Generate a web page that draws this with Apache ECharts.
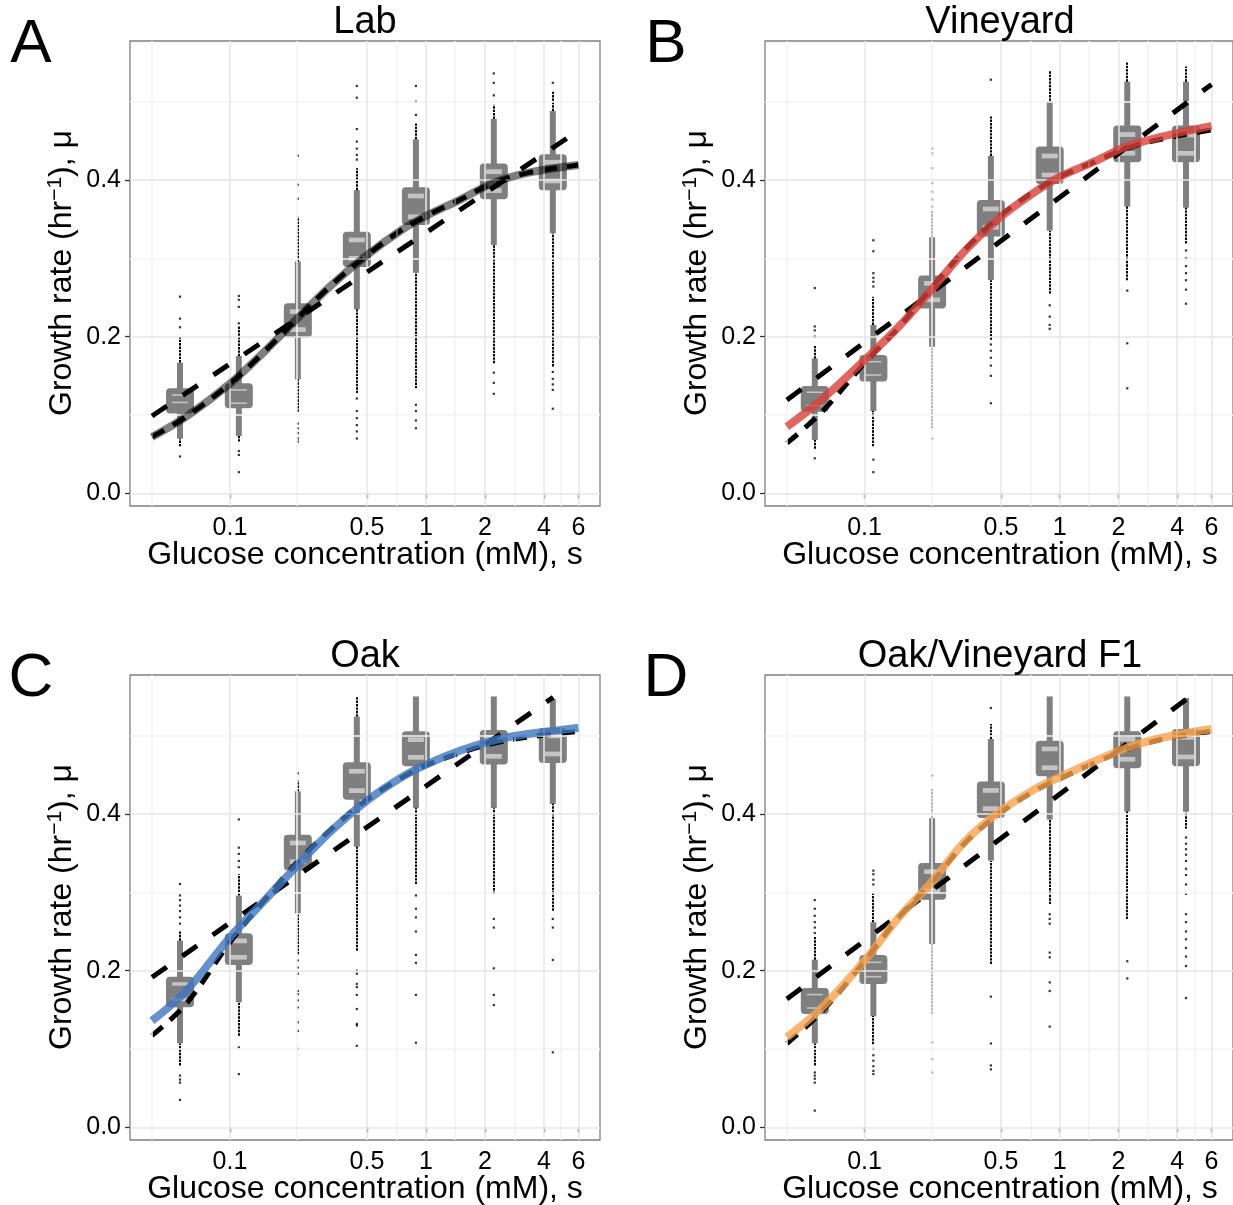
<!DOCTYPE html>
<html><head><meta charset="utf-8">
<script src="https://cdn.jsdelivr.net/npm/echarts@6/dist/echarts.min.js"></script>
<style>html,body{margin:0;padding:0;background:#fff}#c{width:1233px;height:1205px}</style>
</head><body><div id="c"></div>
<script>
// ---------- shared ----------
const conc = [0.0556, 0.111, 0.222, 0.444, 0.889, 2.22, 4.44];
const xBreaks = [0.1, 0.5, 1, 2, 4, 6];
const xMinor = [0.0447, 0.2236, 0.7071, 1.414, 2.828, 4.899];
const yBreaks = [0, 0.2, 0.4];
const yMinor = [0.1, 0.3, 0.5];
const fitS = [0.04, 0.06, 0.1, 0.15, 0.22, 0.33, 0.5, 0.75, 1, 1.5, 2.2, 3.3, 6];
const panelTitles = ['Lab', 'Vineyard', 'Oak', 'Oak/Vineyard F1'];
const panelLetters = ['A', 'B', 'C', 'D'];

// ---------- A: Lab ----------
const labBarLo = [0.070, 0.0732, 0.1455, 0.235, 0.2817, 0.317, 0.332];
const labBoxLo = [0.102, 0.1085, 0.199, 0.289, 0.3426, 0.3753, 0.387];
const labBoxHi = [0.134, 0.1404, 0.2426, 0.334, 0.3906, 0.421, 0.4328];
const labBarHi = [0.1668, 0.1753, 0.296, 0.387, 0.452, 0.478, 0.488];
const labMarkHi = [0.1255, 0.132, 0.232, 0.3234, 0.3796, 0.4106, 0.4226];
const labMarkLo = [0.116, 0.115, 0.209, 0.300, 0.353, 0.3864, 0.3987];
const labMarkHalf = [0.001, 0.001, 0.003, 0.003, 0.003, 0.003, 0.003];
const labRuns = [[0,0.167,0.200],[0,0.060,0.070],[1,0.175,0.213],[1,0.066,0.073],[2,0.296,0.353],[2,0.104,0.1455],
  [3,0.387,0.415],[3,0.128,0.235],[4,0.452,0.472],[4,0.134,0.282],[5,0.478,0.496],[5,0.166,0.317],[6,0.488,0.514],[6,0.162,0.332]];
const labPts = [[0,0.251],[0,0.223],[0,0.212],[0,0.047],[1,0.252],[1,0.247],[1,0.238],[1,0.217],[1,0.054],[1,0.049],[1,0.027],
  [2,0.431],[2,0.394],[2,0.376],[2,0.089],[2,0.083],[2,0.077],[2,0.070],[2,0.066],
  [3,0.520],[3,0.505],[3,0.465],[3,0.449],[3,0.440],[3,0.432],[3,0.426],[3,0.121],[3,0.105],[3,0.096],[3,0.087],[3,0.079],[3,0.070],
  [4,0.520],[4,0.500],[4,0.483],[4,0.113],[4,0.105],[4,0.093],[4,0.083],
  [5,0.536],[5,0.524],[5,0.508],[5,0.154],[5,0.141],[5,0.127],
  [6,0.524],[6,0.155],[6,0.146],[6,0.139],[6,0.132],[6,0.108]];
const labFit = [0.072, 0.098, 0.140, 0.181, 0.223, 0.266, 0.304, 0.336, 0.354, 0.375, 0.396, 0.409, 0.419];
const labModel = [0.072, 0.098, 0.140, 0.181, 0.223, 0.266, 0.304, 0.336, 0.354, 0.375, 0.396, 0.409, 0.419];
const labLineS = [0.04, 6];
const labLine = [0.0987, 0.463];

// ---------- B: Vineyard ----------
const vinBarLo = [0.068, 0.105, 0.187, 0.2723, 0.3353, 0.366, 0.3647];
const vinBoxLo = [0.104, 0.1426, 0.236, 0.3277, 0.395, 0.4226, 0.4226];
const vinBoxHi = [0.137, 0.1766, 0.2779, 0.3745, 0.4426, 0.4694, 0.4694];
const vinBarHi = [0.1723, 0.2149, 0.3268, 0.4306, 0.5009, 0.5255, 0.5255];
const vinMarkHi = [0.129, 0.168, 0.268, 0.363, 0.4306, 0.458, 0.4574];
const vinMarkLo = [0.112, 0.151, 0.247, 0.3396, 0.4064, 0.434, 0.434];
const vinMarkHalf = [0.001, 0.001, 0.003, 0.003, 0.003, 0.003, 0.003];
const vinRuns = [[0,0.172,0.189],[0,0.057,0.068],[1,0.215,0.251],[1,0.060,0.105],[2,0.327,0.362],[2,0.083,0.187],
  [3,0.4306,0.481],[3,0.196,0.272],[4,0.501,0.540],[4,0.255,0.335],[5,0.5255,0.55],[5,0.272,0.366],[6,0.5255,0.545],[6,0.319,0.365]];
const vinPts = [[0,0.262],[0,0.213],[0,0.208],[0,0.200],[0,0.0447],
  [1,0.323],[1,0.309],[1,0.281],[1,0.275],[1,0.270],[1,0.264],[1,0.043],[1,0.027],
  [2,0.440],[2,0.434],[2,0.415],[2,0.396],[2,0.385],[2,0.375],[2,0.366],[2,0.070],
  [3,0.528],[3,0.190],[3,0.182],[3,0.173],[3,0.163],[3,0.150],[3,0.115],
  [4,0.240],[4,0.2255],[4,0.215],[4,0.210],
  [5,0.2587],[5,0.1915],[5,0.134],
  [6,0.310],[6,0.300],[6,0.290],[6,0.281],[6,0.272],[6,0.260],[6,0.242]];
const vinFit = [0.0851, 0.119, 0.170, 0.2128, 0.2596, 0.3106, 0.353, 0.385, 0.404, 0.4234, 0.4426, 0.455, 0.469];
const vinModel = [0.064, 0.103, 0.166, 0.212, 0.262, 0.312, 0.355, 0.386, 0.404, 0.423, 0.440, 0.452, 0.4638];
const vinLineS = [0.04, 6];
const vinLine = [0.119, 0.522];

// ---------- C: Oak ----------
const oakBarLo = [0.1072, 0.1596, 0.2732, 0.3583, 0.4077, 0.4077, 0.4128];
const oakBoxLo = [0.1532, 0.2072, 0.3277, 0.418, 0.4609, 0.463, 0.4651];
const oakBoxHi = [0.1923, 0.2477, 0.3736, 0.466, 0.5055, 0.5072, 0.5098];
const oakBarHi = [0.2383, 0.2957, 0.4289, 0.5243, 0.55, 0.55, 0.5468];
const oakMarkHi = [0.183, 0.238, 0.363, 0.4545, 0.4949, 0.4979, 0.4996];
const oakMarkLo = [0.163, 0.217, 0.339, 0.4298, 0.4723, 0.4736, 0.4766];
const oakMarkHalf = [0.0022, 0.003, 0.003, 0.003, 0.003, 0.003, 0.003];
const oakRuns = [[0,0.2383,0.251],[0,0.079,0.107],[1,0.296,0.323],[1,0.117,0.16],[2,0.4289,0.4426],[2,0.221,0.273],
  [3,0.5243,0.549],[3,0.2255,0.358],[4,0.3106,0.408],[5,0.298,0.408],[6,0.2766,0.413]];
const oakPts = [[0,0.3106],[0,0.296],[0,0.290],[0,0.283],[0,0.276],[0,0.268],[0,0.260],[0,0.066],[0,0.061],[0,0.057],[0,0.035],
  [1,0.393],[1,0.357],[1,0.349],[1,0.340],[1,0.332],[1,0.102],[1,0.068],
  [2,0.4519],[2,0.213],[2,0.204],[2,0.196],[2,0.174],[2,0.170],[2,0.162],[2,0.153],[2,0.134],[2,0.123],[2,0.100],
  [3,0.200],[3,0.196],[3,0.183],[3,0.179],[3,0.169],[3,0.151],[3,0.132],[3,0.130],[3,0.104],
  [4,0.296],[4,0.279],[4,0.268],[4,0.250],[4,0.220],[4,0.210],[4,0.169],[4,0.108],
  [5,0.266],[5,0.255],[5,0.203],[5,0.169],[5,0.156],
  [6,0.266],[6,0.255],[6,0.2136],[6,0.0957]];
const oakFit = [0.136, 0.1745, 0.2426, 0.2894, 0.334, 0.3787, 0.417, 0.4468, 0.463, 0.481, 0.4936, 0.502, 0.5098];
const oakModel = [0.117, 0.158, 0.236, 0.290, 0.338, 0.381, 0.418, 0.446, 0.462, 0.478, 0.490, 0.498, 0.5055];
const oakLineS = [0.04, 4.46];
const oakLine = [0.1915, 0.549];

// ---------- D: Oak/Vineyard F1 ----------
const f1BarLo = [0.1072, 0.1417, 0.234, 0.3404, 0.3928, 0.403, 0.403];
const f1BoxLo = [0.1447, 0.183, 0.2906, 0.3949, 0.448, 0.4583, 0.4609];
const f1BoxHi = [0.1779, 0.22, 0.3374, 0.4413, 0.4936, 0.5055, 0.5085];
const f1BarHi = [0.214, 0.2617, 0.3945, 0.4957, 0.55, 0.55, 0.548];
const f1MarkHi = [0.1694, 0.2106, 0.3264, 0.430, 0.483, 0.4953, 0.4979];
const f1MarkLo = [0.1523, 0.1923, 0.302, 0.4068, 0.459, 0.4698, 0.4728];
const f1MarkHalf = [0.001, 0.001, 0.003, 0.003, 0.003, 0.003, 0.003];
const f1Runs = [[0,0.214,0.243],[0,0.079,0.107],[1,0.2617,0.300],[1,0.106,0.142],[2,0.3945,0.432],[2,0.1447,0.234],
  [3,0.4957,0.515],[3,0.2085,0.340],[4,0.285,0.3928],[5,0.266,0.403],[6,0.381,0.403]];
const f1Pts = [[0,0.290],[0,0.279],[0,0.270],[0,0.262],[0,0.255],[0,0.248],[0,0.070],[0,0.066],[0,0.062],[0,0.057],[0,0.0213],
  [1,0.3277],[1,0.323],[1,0.316],[1,0.310],[1,0.100],[1,0.092],[1,0.085],[1,0.078],[1,0.072],[1,0.068],
  [2,0.449],[2,0.1085],[2,0.087],[2,0.070],
  [3,0.5353],[3,0.1668],[3,0.107],[3,0.079],[3,0.074],
  [4,0.272],[4,0.266],[4,0.260],[4,0.223],[4,0.217],[4,0.185],[4,0.174],[4,0.1285],
  [5,0.212],[5,0.190],
  [6,0.370],[6,0.362],[6,0.355],[6,0.348],[6,0.340],[6,0.330],[6,0.322],[6,0.310],[6,0.298],[6,0.272],[6,0.262],[6,0.250],[6,0.240],[6,0.229],[6,0.218],[6,0.206],[6,0.165]];
const f1Fit = [0.115, 0.152, 0.2128, 0.268, 0.3128, 0.366, 0.404, 0.432, 0.447, 0.467, 0.4843, 0.497, 0.5085];
const f1Model = [0.107, 0.147, 0.212, 0.268, 0.312, 0.364, 0.402, 0.430, 0.445, 0.465, 0.482, 0.495, 0.5055];
const f1LineS = [0.04, 4.54];
const f1Line = [0.1638, 0.548];

// ---------- build ----------
const FONT = '"Liberation Sans", Arial, Helvetica, sans-serif';
const panels = [
  {barLo:labBarLo, boxLo:labBoxLo, boxHi:labBoxHi, barHi:labBarHi, mHi:labMarkHi, mLo:labMarkLo, mHalf:labMarkHalf, runs:labRuns, pts:labPts, fit:labFit, model:labModel, lineS:labLineS, line:labLine, color:'#000000', opacity:0.5},
  {barLo:vinBarLo, boxLo:vinBoxLo, boxHi:vinBoxHi, barHi:vinBarHi, mHi:vinMarkHi, mLo:vinMarkLo, mHalf:vinMarkHalf, runs:vinRuns, pts:vinPts, fit:vinFit, model:vinModel, lineS:vinLineS, line:vinLine, color:'#d7403a', opacity:0.8},
  {barLo:oakBarLo, boxLo:oakBoxLo, boxHi:oakBoxHi, barHi:oakBarHi, mHi:oakMarkHi, mLo:oakMarkLo, mHalf:oakMarkHalf, runs:oakRuns, pts:oakPts, fit:oakFit, model:oakModel, lineS:oakLineS, line:oakLine, color:'#3f77c1', opacity:0.8},
  {barLo:f1BarLo, boxLo:f1BoxLo, boxHi:f1BoxHi, barHi:f1BarHi, mHi:f1MarkHi, mLo:f1MarkLo, mHalf:f1MarkHalf, runs:f1Runs, pts:f1Pts, fit:f1Fit, model:f1Model, lineS:f1LineS, line:f1Line, color:'#f9a350', opacity:0.8}
];
const gridPos = [
  {left:130, top:41, width:470, height:465},
  {left:765, top:41, width:470, height:465},
  {left:130, top:675, width:470, height:465},
  {left:765, top:675, width:470, height:465}
];
const X_MIN = 0.0309, X_MAX = 7.73, Y_MIN = -0.0162, Y_MAX = 0.5774;

const grid = [], xAxis = [], yAxis = [], series = [], graphic = [];

function renderBox(params, api) {
  const s = api.value(0);
  const c = v => api.coord([s, v]);
  const cx = c(api.value(1))[0];
  const yBarLo = c(api.value(1))[1], yBoxLo = c(api.value(2))[1], yBoxHi = c(api.value(3))[1], yBarHi = c(api.value(4))[1];
  const half = api.value(7);
  const mark = v => {
    const y1 = c(v + half)[1], y2 = c(v - half)[1];
    const h = Math.max(1.4, y2 - y1);
    return {type:'rect', shape:{x:cx - 8, y:(y1 + y2) / 2 - h / 2, width:16, height:h}, style:{fill:'#c4c4c4'}};
  };
  return {type:'group', children:[
    {type:'rect', shape:{x:cx - 3, y:yBarHi, width:6, height:yBarLo - yBarHi}, style:{fill:'#7f7f7f'}},
    {type:'rect', shape:{x:cx - 14, y:yBoxHi, width:28, height:yBoxLo - yBoxHi, r:4}, style:{fill:'#7f7f7f'}},
    mark(api.value(5)), mark(api.value(6))
  ]};
}
function renderRun(params, api) {
  const p1 = api.coord([api.value(0), api.value(1)]);
  const p2 = api.coord([api.value(0), api.value(2)]);
  const x = Math.round(p1[0]);
  return {type:'line', shape:{x1:x, y1:p1[1], x2:x, y2:p2[1]},
    style:{stroke:'#000', lineWidth:2, lineDash:[2.4, 1]}};
}

panels.forEach((p, i) => {
  const g = gridPos[i];
  grid.push(Object.assign({show:true, borderColor:'#7f7f7f', borderWidth:1.3, backgroundColor:'#ffffff', containLabel:false}, g));
  xAxis.push({type:'log', logBase:10, gridIndex:i, min:X_MIN, max:X_MAX,
    axisLine:{show:false}, splitLine:{show:false}, minorTick:{show:false}, minorSplitLine:{show:false},
    axisTick:{show:true, customValues:xBreaks, length:5, lineStyle:{color:'#333', width:1.3}},
    axisLabel:{show:true, customValues:xBreaks, margin:10, fontSize:25, color:'#000', fontFamily:FONT,
      formatter: v => String(+(+v).toPrecision(3))}});
  yAxis.push({type:'value', gridIndex:i, min:Y_MIN, max:Y_MAX,
    axisLine:{show:false}, splitLine:{show:false},
    axisTick:{show:true, customValues:yBreaks, length:5, lineStyle:{color:'#333', width:1.3}},
    axisLabel:{show:true, customValues:yBreaks, margin:9, fontSize:25, color:'#000', fontFamily:FONT,
      formatter: v => (+v).toFixed(1)}});

  const gl = [];
  xMinor.forEach(v => gl.push({xAxis:v, lineStyle:{color:'#f3f3f3', width:1.5, type:'solid'}}));
  yMinor.forEach(v => gl.push({yAxis:v, lineStyle:{color:'#f3f3f3', width:1.5, type:'solid'}}));
  xBreaks.forEach(v => gl.push({xAxis:v, lineStyle:{color:'#e6e6e6', width:1.5, type:'solid'}}));
  yBreaks.forEach(v => gl.push({yAxis:v, lineStyle:{color:'#e6e6e6', width:1.5, type:'solid'}}));
  series.push({type:'line', xAxisIndex:i, yAxisIndex:i, data:[], z:1, silent:true,
    markLine:{silent:true, symbol:['none','none'], label:{show:false}, animation:false, data:gl}});

  series.push({type:'custom', xAxisIndex:i, yAxisIndex:i, z:2, silent:true, renderItem:renderBox,
    encode:{x:0, y:[1,2,3,4]},
    data: conc.map((s, k) => [s, p.barLo[k], p.boxLo[k], p.boxHi[k], p.barHi[k], p.mHi[k], p.mLo[k], p.mHalf[k]])});
  series.push({type:'custom', xAxisIndex:i, yAxisIndex:i, z:3, silent:true, renderItem:renderRun,
    encode:{x:0, y:[1,2]},
    data: p.runs.map(r => [conc[r[0]], r[1], r[2]])});
  series.push({type:'scatter', xAxisIndex:i, yAxisIndex:i, z:3, silent:true, symbol:'rect', symbolSize:2.2,
    itemStyle:{color:'#000'}, data: p.pts.map(r => [conc[r[0]], r[1]])});
  series.push({type:'line', xAxisIndex:i, yAxisIndex:i, z:4, silent:true, showSymbol:false, symbol:'none', smooth:0.35,
    lineStyle:{color:'#000', width:5, type:[14, 10], cap:'butt'},
    data: fitS.map((s, k) => [s, p.model[k]])});
  series.push({type:'line', xAxisIndex:i, yAxisIndex:i, z:5, silent:true, showSymbol:false, symbol:'none',
    lineStyle:{color:'#000', width:5, type:[18, 19], cap:'butt'},
    data: p.lineS.map((s, k) => [s, p.line[k]])});
  series.push({type:'line', xAxisIndex:i, yAxisIndex:i, z:6, silent:true, showSymbol:false, symbol:'none', smooth:0.35,
    lineStyle:{color:p.color, width:8, opacity:p.opacity, cap:'butt'},
    data: fitS.map((s, k) => [s, p.fit[k]])});

  // texts
  const cx = g.left + 235;
  graphic.push({type:'text', x:cx, y:g.top - 18, style:{text:panelTitles[i], font:'38px ' + FONT, fill:'#000', textAlign:'center', textVerticalAlign:'middle'}});
  graphic.push({type:'text', x:(i % 2 === 0 ? 31 : 666), y:g.top + 4, style:{text:panelLetters[i], font:'62px ' + FONT, fill:'#000', textAlign:'center', textVerticalAlign:'middle'}});
  graphic.push({type:'text', x:cx, y:g.top + 514, style:{text:'Glucose concentration (mM), s', font:'32px ' + FONT, fill:'#000', textAlign:'center', textVerticalAlign:'middle'}});
  graphic.push({type:'text', x:g.left - 68, y:g.top + 232, rotation:Math.PI / 2,
    style:{text:'{a|Growth rate (hr}{b|\u22121}{a|), \u03bc}', textAlign:'center', textVerticalAlign:'middle',
      rich:{a:{fontSize:32, fontFamily:FONT, fill:'#000', lineHeight:34}, b:{fontSize:21, fontFamily:FONT, fill:'#000', verticalAlign:'top', lineHeight:21}}}});
});

const chart = echarts.init(document.getElementById('c'), null, {renderer:'canvas', width:1233, height:1205});
chart.setOption({animation:false, backgroundColor:'#ffffff', grid, xAxis, yAxis, series, graphic});
</script></body></html>
